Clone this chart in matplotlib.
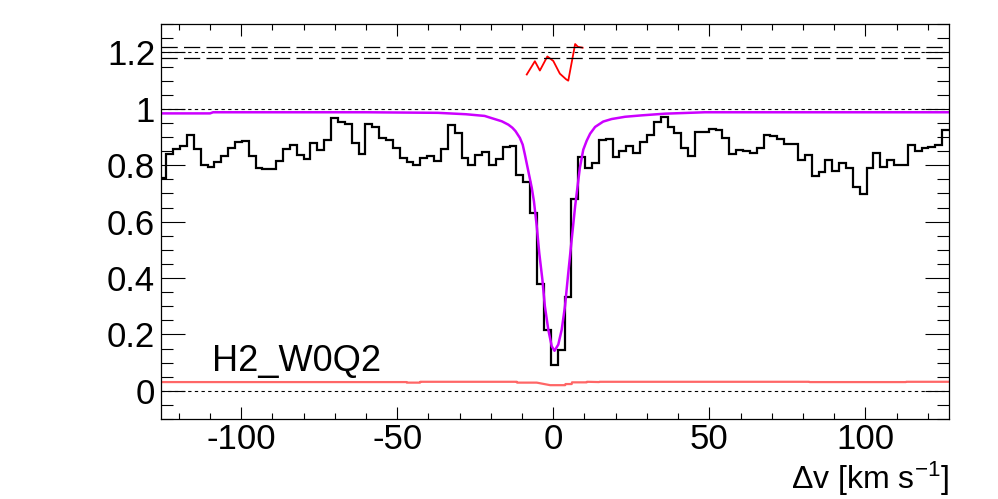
import numpy as np
import matplotlib
matplotlib.use("Agg")
import matplotlib.pyplot as plt
from matplotlib.ticker import MultipleLocator, FixedLocator, FixedFormatter

plt.rcParams['font.family'] = ['Liberation Sans', 'DejaVu Sans']
plt.rcParams['mathtext.fontset'] = 'custom'
plt.rcParams['mathtext.rm'] = 'Liberation Sans'
plt.rcParams['mathtext.it'] = 'Liberation Sans:italic'
plt.rcParams['mathtext.sf'] = 'Liberation Sans'

# ---------------- data ----------------
# histogram (normalised flux) : first edge, bin width, values per bin
first_edge = -126.2
bin_width = 2.2
flux = [0.755, 0.840, 0.858, 0.867, 0.909, 0.858, 0.800, 0.795, 0.811, 0.832,
        0.862, 0.882, 0.885, 0.832, 0.791, 0.785, 0.785, 0.814, 0.858, 0.871,
        0.835, 0.823, 0.878, 0.853, 0.891, 0.967, 0.954, 0.947, 0.880, 0.840,
        0.948, 0.935, 0.898, 0.889, 0.862, 0.824, 0.811, 0.800, 0.826, 0.834,
        0.814, 0.858, 0.944, 0.915, 0.826, 0.800, 0.838, 0.846, 0.800, 0.823,
        0.864, 0.870, 0.764, 0.740, 0.629, 0.379, 0.217, 0.093, 0.143, 0.332,
        0.680, 0.829, 0.790, 0.807, 0.890, 0.893, 0.830, 0.850, 0.867, 0.843,
        0.882, 0.906, 0.953, 0.970, 0.935, 0.913, 0.862, 0.834, 0.917, 0.917,
        0.930, 0.924, 0.897, 0.841, 0.853, 0.850, 0.843, 0.862, 0.906, 0.903,
        0.893, 0.875, 0.875, 0.820, 0.835, 0.763, 0.775, 0.818, 0.780, 0.807,
        0.791, 0.722, 0.697, 0.791, 0.843, 0.794, 0.818, 0.800, 0.800, 0.871,
        0.850, 0.862, 0.865, 0.872, 0.925]

# model profile
model_v = [-126.2, -110.0, -109.0, -60.0, -37.0, -28.0, -22.0, -19.7, -16.5, -14.4,
           -13.1, -12.1, -10.7, -9.8, -9.1, -8.0, -6.9, -6.2, -5.3, -4.5,
           -3.5, -2.7, -1.6, -0.5, 0.4, 1.6, 2.7, 3.75, 4.8, 5.9,
           7.0, 8.0, 8.5, 9.1, 9.6, 10.7, 11.8, 13.4, 16.0, 18.7,
           23.0, 28.3, 35.8, 48.6, 126.8]
model_f = [0.984, 0.984, 0.988, 0.988, 0.986, 0.981, 0.975, 0.967, 0.956, 0.944,
           0.933, 0.921, 0.897, 0.873, 0.838, 0.779, 0.720, 0.672, 0.584, 0.489,
           0.395, 0.300, 0.217, 0.158, 0.142, 0.164, 0.217, 0.300, 0.418, 0.537,
           0.655, 0.745, 0.790, 0.825, 0.855, 0.887, 0.912, 0.936, 0.955, 0.964,
           0.972, 0.977, 0.983, 0.988, 0.988]

# residuals (offset to 1.2)
resid_v = [-8.5, -5.9, -4.3, -1.9, 0.0, 2.1, 4.1, 4.8, 7.0, 7.9, 9.4]
resid_f = [1.122, 1.169, 1.136, 1.186, 1.170, 1.125, 1.105, 1.100, 1.230, 1.220, 1.217]

# error spectrum
err_v = [-126.2, -47.0, -46.9, -42.7, -42.6, -11.7, -11.6, -5.3, -1.0, 3.8,
         3.9, 5.9, 6.0, 10.7, 10.8, 14.7, 14.8, 82.0, 82.1, 113.0, 113.1, 126.8]
err_f = [0.031, 0.031, 0.029, 0.029, 0.032, 0.032, 0.029, 0.029, 0.020, 0.020,
         0.024, 0.024, 0.030, 0.030, 0.032, 0.031, 0.032, 0.032, 0.031, 0.031,
         0.032, 0.032]

label_text = "H2_W0Q2"
x_range = (-125.8, 126.8)
y_range = (-0.1, 1.3)
ytick_vals = [0, 0.2, 0.4, 0.6, 0.8, 1.0, 1.2]
ytick_labels = ['0', '0.2', '0.4', '0.6', '0.8', '1', '1.2']
xtick_vals = [-100, -50, 0, 50, 100]
xtick_labels = ['-100', '-50', '0', '50', '100']

# ---------------- figure ----------------
W, H = 998, 499
fig = plt.figure(figsize=(W / 100, H / 100), dpi=100)
ax = fig.add_axes([160.7 / W, 1 - 419 / H, (949 - 160.7) / W, (419 - 24.3) / H])

edges = first_edge + bin_width * np.arange(len(flux) + 1)
ax.stairs(flux, edges, color='black', lw=1.6, baseline=None)
ax.plot(model_v, model_f, color='#cc00ff', lw=1.8)
ax.plot(resid_v, resid_f, color='#ff0000', lw=1.3)
ax.plot(err_v, err_f, color='#ff6666', lw=1.6)

# reference lines
ax.axhline(1.0, color='black', lw=0.8, ls=(0, (3, 3)))
ax.axhline(0.0, color='black', lw=0.8, ls=(0, (3, 3)))
ax.axhline(1.2, color='black', lw=0.8, ls=(0, (3, 3)))
ax.axhline(1.218, color='black', lw=0.9, ls=(0, (13, 5)))
ax.axhline(1.182, color='black', lw=0.9, ls=(0, (13, 5)))

ax.text(-109.5, 0.07, label_text, fontsize=26, ha='left', va='baseline')

ax.set_xlim(*x_range)
ax.set_ylim(*y_range)

ax.xaxis.set_major_locator(FixedLocator(xtick_vals))
ax.xaxis.set_major_formatter(FixedFormatter(xtick_labels))
ax.xaxis.set_minor_locator(MultipleLocator(10))
ax.yaxis.set_major_locator(FixedLocator(ytick_vals))
ax.yaxis.set_major_formatter(FixedFormatter(ytick_labels))
ax.yaxis.set_minor_locator(MultipleLocator(0.05))

ax.tick_params(axis='both', which='both', direction='in', top=True, right=True,
               width=0.8, labelsize=25)
ax.tick_params(axis='x', which='major', length=8.6, pad=3)
ax.tick_params(axis='x', which='minor', length=4.3)
ax.tick_params(axis='y', which='major', length=17.3, pad=4)
ax.tick_params(axis='y', which='minor', length=8.6)
for s in ax.spines.values():
    s.set_linewidth(0.9)

fig.text(949 / W, 1 - 489 / H, r'$\Delta$v [km s$^{-1}$]', fontsize=23,
         ha='right', va='baseline')

fig.savefig('out.png', dpi=100)
